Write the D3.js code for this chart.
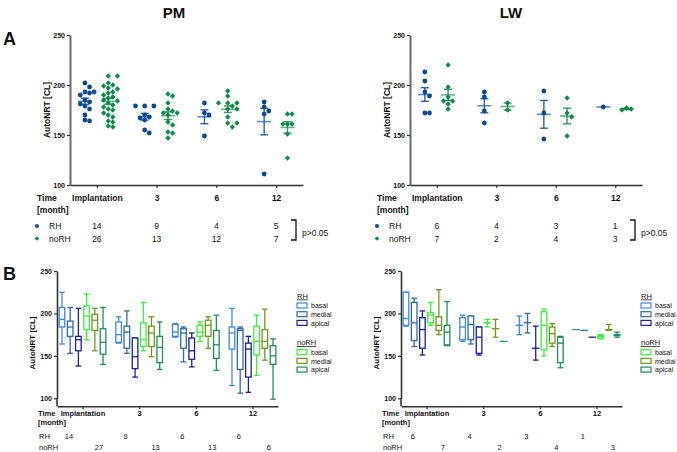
<!DOCTYPE html>
<html>
<head>
<meta charset="utf-8">
<script src="https://cdn.jsdelivr.net/npm/d3@7"></script>
<style>
  body { margin: 0; background: #fff; }
  text { font-family: Arial, "Liberation Sans", sans-serif; fill: #111; }
</style>
</head>
<body>
<script>
let times = ['Implantation', '3', '6', '12'];

// A: AutoNRT [CL] per patient, one list per time point
let pmRH = [
  [202, 198, 193, 193, 192, 190, 185, 183, 181, 179, 176, 170, 165, 164],
  [179, 179, 179, 170, 168, 167, 165, 155, 152],
  [182, 172, 170, 149],
  [183, 178, 174, 171, 111]
];
let pmNoRH = [
  [209, 209, 202, 200, 199, 197, 196, 193, 192, 190, 188, 187, 185, 184, 182, 180, 178, 176, 175, 172, 170, 168, 164, 163, 159, 158],
  [191, 189, 182, 176, 174, 172, 172, 170, 163, 160, 153, 152, 147],
  [194, 189, 182, 182, 182, 179, 176, 176, 168, 162, 162, 158],
  [171, 171, 161, 161, 161, 151, 127]
];
let lwRH = [
  [213, 204, 193, 189, 172, 172],
  [193, 188, 174, 162],
  [194, 172, 146],
  [178]
];
let lwNoRH = [
  [220, 198, 188, 184, 184, 181, 176],
  [182, 175],
  [187, 172, 168, 149],
  [177, 176, 175]
];

// B: box plots [min, q1, median, q3, max] per time point
let regions = ['basal', 'medial', 'apical'];
let pmBoxRH = {
  basal:  [[164, 184, 193, 207, 225], [165, 166, 175, 190, 196], [172, 173, 178, 187, 188], [115, 158, 177, 184, 206]],
  medial: [[153, 173, 184, 191, 207], [153, 159, 178, 185, 203], [143, 159, 177, 182, 184], [106, 134, 180, 182, 184]],
  apical: [[138, 156, 169, 173, 206], [125, 135, 149, 171, 171], [137, 146, 156, 171, 177], [107, 125, 158, 165, 173]]
};
let pmBoxNoRH = {
  basal:  [[169, 181, 197, 209, 223], [156, 161, 169, 189, 213], [167, 173, 178, 186, 190], [127, 151, 167, 185, 198]],
  medial: [[156, 180, 192, 199, 206], [149, 161, 177, 185, 196], [159, 173, 186, 192, 196], [145, 159, 167, 181, 205]],
  apical: [[140, 152, 166, 182, 207], [134, 142, 160, 173, 190], [133, 147, 163, 180, 198], [99, 140, 150, 162, 170]]
};
let lwBoxRH = {
  basal:  [[185, 186, 194, 225, 225], [167, 169, 184, 195, 198], [175, 186, 186, 186, 197], [181, 181, 181, 181, 181]],
  medial: [[161, 168, 189, 213, 218], [164, 169, 187, 197, 197], [177, 189, 189, 189, 200], [180, 180, 180, 180, 180]],
  apical: [[151, 159, 181, 195, 203], [151, 153, 172, 184, 184], [145, 159, 159, 159, 185], [172, 172, 172, 172, 172]]
};
let lwBoxNoRH = {
  basal:  [[186, 189, 198, 201, 213], [184, 189, 189, 189, 193], [150, 157, 186, 202, 205], [170, 171, 173, 174, 175]],
  medial: [[175, 180, 186, 196, 228], [172, 182, 182, 182, 193], [161, 165, 176, 184, 188], [180, 181, 181, 181, 187]],
  apical: [[162, 163, 178, 186, 214], [167, 167, 167, 167, 167], [136, 142, 165, 172, 173], [172, 174, 175, 175, 178]]
};
let pmBoxCountRH = [14, 8, 6, 6];
let pmBoxCountNoRH = [27, 13, 13, 6];
let lwBoxCountRH = [6, 4, 3, 1];
let lwBoxCountNoRH = [7, 2, 4, 3];

let colRH = '#0d4a94', colNoRH = '#0e8a4a';
let boxColRH = {basal: '#3f8ad8', medial: '#2f6aa6', apical: '#202095'};
let boxColNoRH = {basal: '#3def3d', medial: '#76951f', apical: '#1f8f5e'};

let svg = d3.select('body').append('svg')
  .attr('width', 677)
  .attr('height', 452);

// titles
svg.append('text').text('PM').attr('x', 174).attr('y', 18)
  .attr('text-anchor', 'middle').style('font-size', '15px').style('font-weight', 'bold');
svg.append('text').text('LW').attr('x', 511).attr('y', 18)
  .attr('text-anchor', 'middle').style('font-size', '15px').style('font-weight', 'bold');
svg.append('text').text('A').attr('x', 3).attr('y', 45)
  .style('font-size', '18px').style('font-weight', 'bold');
svg.append('text').text('B').attr('x', 3).attr('y', 280)
  .style('font-size', '18px').style('font-weight', 'bold');

function swarm(vals, cx, y) {
  let placed = [];
  vals.slice().sort((a, b) => b - a).forEach(v => {
    let py = y(v);
    for (let k = 0; k < 30; k++) {
      let off = k === 0 ? 0 : (k % 2 ? 1 : -1) * Math.ceil(k / 2) * 4.6;
      let px = cx + off;
      if (placed.every(p => Math.hypot(p.x - px, p.y - py) >= 4.6)) {
        placed.push({x: px, y: py});
        break;
      }
    }
  });
  return placed;
}

function styleAxes(gx, gy, fs) {
  gy.select('.domain').attr('stroke', '#6b6b6b').attr('stroke-width', 2);
  gx.select('.domain').attr('stroke', '#333').attr('stroke-width', 1.6);
  gy.selectAll('.tick line').attr('stroke', '#333').attr('stroke-width', 1.2);
  gx.selectAll('.tick line').attr('stroke', '#333').attr('stroke-width', 1.2);
  gy.selectAll('text').style('font-size', '7px').style('font-weight', 'bold')
    .style('font-family', 'Arial, "Liberation Sans", sans-serif');
  gx.selectAll('text').style('font-size', fs + 'px').style('font-weight', 'bold')
    .style('font-family', 'Arial, "Liberation Sans", sans-serif');
}

function scatterPanel(o) {
  let x = d3.scalePoint().domain(times).range([o.x0, o.x1]).padding(0.45);
  let y = d3.scaleLinear().domain([100, 250]).range([185, 35]);
  let step = x.step();

  let gy = svg.append('g').attr('transform', `translate(${o.x0},0)`)
    .call(d3.axisLeft(y).tickValues([100, 150, 200, 250]).tickSize(3).tickSizeOuter(0).tickPadding(2));
  let gx = svg.append('g').attr('transform', `translate(0,${y(100)})`)
    .call(d3.axisBottom(x).tickSize(3).tickSizeOuter(0).tickPadding(7));
  styleAxes(gx, gy, 8.5);

  svg.append('text').text('AutoNRT [CL]')
    .attr('transform', `translate(${o.x0 - 20},${(y(100) + y(250)) / 2}) rotate(-90)`)
    .attr('text-anchor', 'middle').style('font-size', '8.5px').style('font-weight', 'bold');

  let groups = [
    {data: o.rh, col: colRH, shape: 'circle', dx: -0.2},
    {data: o.norh, col: colNoRH, shape: 'diamond', dx: 0.19}
  ];
  groups.forEach(gr => {
    gr.data.forEach((vals, i) => {
      let cx = x(times[i]) + gr.dx * step;
      let pts = swarm(vals, cx, y);
      if (gr.shape === 'circle') {
        svg.append('g').selectAll('circle').data(pts).enter().append('circle')
          .attr('cx', d => d.x).attr('cy', d => d.y).attr('r', 2.4).attr('fill', gr.col);
      } else {
        svg.append('g').selectAll('path').data(pts).enter().append('path')
          .attr('d', d3.symbol().type(d3.symbolSquare).size(14))
          .attr('transform', d => `translate(${d.x},${d.y}) rotate(45)`).attr('fill', gr.col);
      }
      let m = d3.mean(vals);
      svg.append('line').attr('x1', cx - 7).attr('x2', cx + 7).attr('y1', y(m)).attr('y2', y(m))
        .attr('stroke', gr.col).attr('stroke-width', 1.6).attr('stroke-opacity', 0.65);
      if (vals.length > 1) {
        let sem = d3.deviation(vals) / Math.sqrt(vals.length);
        let eb = svg.append('g').attr('stroke', gr.col).attr('stroke-width', 1.4).attr('stroke-opacity', 0.85);
        eb.append('line').attr('x1', cx).attr('x2', cx).attr('y1', y(m + sem)).attr('y2', y(m - sem));
        eb.append('line').attr('x1', cx - 4).attr('x2', cx + 4).attr('y1', y(m + sem)).attr('y2', y(m + sem));
        eb.append('line').attr('x1', cx - 4).attr('x2', cx + 4).attr('y1', y(m - sem)).attr('y2', y(m - sem));
      }
    });
  });

  // table under axis
  let tx = o.x0 - 33;
  svg.append('text').text('Time').attr('x', tx).attr('y', 201)
    .style('font-size', '8.5px').style('font-weight', 'bold');
  svg.append('text').text('[month]').attr('x', tx).attr('y', 212.5)
    .style('font-size', '8.5px').style('font-weight', 'bold');
  svg.append('circle').attr('cx', tx).attr('cy', 226).attr('r', 2).attr('fill', colRH);
  svg.append('path').attr('d', d3.symbol().type(d3.symbolSquare).size(10))
    .attr('transform', `translate(${tx},238.5) rotate(45)`).attr('fill', colNoRH);
  svg.append('text').text('RH').attr('x', tx + 12).attr('y', 229).style('font-size', '8.5px');
  svg.append('text').text('noRH').attr('x', tx + 12).attr('y', 241.5).style('font-size', '8.5px');
  svg.append('g').selectAll('text').data(o.rh).enter().append('text')
    .text(d => d.length).attr('x', (d, i) => x(times[i])).attr('y', 229)
    .attr('text-anchor', 'middle').style('font-size', '8.5px');
  svg.append('g').selectAll('text').data(o.norh).enter().append('text')
    .text(d => d.length).attr('x', (d, i) => x(times[i])).attr('y', 241.5)
    .attr('text-anchor', 'middle').style('font-size', '8.5px');
  let bx = o.x1 - 7;
  svg.append('path').attr('d', `M${bx - 5},220H${bx}V240H${bx - 5}`)
    .attr('fill', 'none').attr('stroke', '#111').attr('stroke-width', 1.3);
  svg.append('text').text('p>0.05').attr('x', bx + 6).attr('y', 235.5).style('font-size', '8.5px');
}

function boxPanel(o) {
  let x = d3.scalePoint().domain(times).range([o.x0, o.x1]).padding(0.45);
  let y = d3.scaleLinear().domain([100, 250]).range([398.3, 271]);
  let step = x.step();

  let gy = svg.append('g').attr('transform', `translate(${o.x0},0)`)
    .call(d3.axisLeft(y).tickValues([100, 150, 200, 250]).tickSize(3).tickSizeOuter(0).tickPadding(2));
  let gx = svg.append('g').attr('transform', `translate(0,${y(100) + 8})`)
    .call(d3.axisBottom(x).tickSize(3).tickSizeOuter(0).tickPadding(1));
  gy.append('line').attr('x1', 0).attr('x2', 0).attr('y1', y(100)).attr('y2', y(100) + 8)
    .attr('stroke', '#333').attr('stroke-width', 1.6);
  styleAxes(gx, gy, 7.5);
  gy.select('.domain').attr('stroke', '#333').attr('stroke-width', 1.6);

  svg.append('text').text('AutoNRT [CL]')
    .attr('transform', `translate(${o.x0 - 22},${343}) rotate(-90)`)
    .attr('text-anchor', 'middle').style('font-size', '8px').style('font-weight', 'bold');

  let series = [];
  regions.forEach(r => series.push({data: o.rh[r], col: boxColRH[r]}));
  regions.forEach(r => series.push({data: o.norh[r], col: boxColNoRH[r]}));
  let bw = 5.6;
  series.forEach((s, k) => {
    s.data.forEach((b, i) => {
      let cx = x(times[i]) + (k - 2.5) * step * 0.145;
      let g = svg.append('g').attr('stroke', s.col).attr('stroke-width', 1.3).attr('fill', 'none');
      g.append('line').attr('x1', cx).attr('x2', cx).attr('y1', y(b[4])).attr('y2', y(b[3]));
      g.append('line').attr('x1', cx).attr('x2', cx).attr('y1', y(b[1])).attr('y2', y(b[0]));
      if (b[4] > b[0]) {
        g.append('line').attr('x1', cx - bw / 2).attr('x2', cx + bw / 2).attr('y1', y(b[4])).attr('y2', y(b[4]));
        g.append('line').attr('x1', cx - bw / 2).attr('x2', cx + bw / 2).attr('y1', y(b[0])).attr('y2', y(b[0]));
      }
      if (b[3] > b[1]) {
        g.append('rect').attr('x', cx - bw / 2).attr('width', bw)
          .attr('y', y(b[3])).attr('height', y(b[1]) - y(b[3])).attr('fill', '#fff');
      }
      let mw = b[3] > b[1] ? bw : bw + 2;
      g.append('line').attr('x1', cx - mw / 2).attr('x2', cx + mw / 2).attr('y1', y(b[2])).attr('y2', y(b[2]));
    });
  });

  // table
  let tx = o.x0 - 19;
  svg.append('text').text('Time').attr('x', tx).attr('y', 416)
    .style('font-size', '7.5px').style('font-weight', 'bold');
  svg.append('text').text('[month]').attr('x', tx).attr('y', 424.5)
    .style('font-size', '7.5px').style('font-weight', 'bold');
  svg.append('text').text('RH').attr('x', tx + 1).attr('y', 439).style('font-size', '7.5px');
  svg.append('text').text('noRH').attr('x', tx + 1).attr('y', 449.5).style('font-size', '7.5px');
  svg.append('g').selectAll('text').data(o.nRH).enter().append('text')
    .text(d => d).attr('x', (d, i) => x(times[i]) - step * 0.24).attr('y', 439)
    .attr('text-anchor', 'middle').style('font-size', '7.5px');
  svg.append('g').selectAll('text').data(o.nNoRH).enter().append('text')
    .text(d => d).attr('x', (d, i) => x(times[i]) + step * 0.29).attr('y', 449.5)
    .attr('text-anchor', 'middle').style('font-size', '7.5px');

  // legend
  let lx = o.x1 + 19;
  [{t: 'RH', y0: 296, cols: boxColRH}, {t: 'noRH', y0: 342.7, cols: boxColNoRH}].forEach(l => {
    svg.append('text').text(l.t).attr('x', lx).attr('y', l.y0 + 2.5)
      .style('font-size', '7.5px').style('text-decoration', 'underline');
    regions.forEach((r, i) => {
      let yy = l.y0 + 9.5 + i * 8.7;
      svg.append('rect').attr('x', lx).attr('y', yy - 2.5).attr('width', 10).attr('height', 5)
        .attr('fill', '#fff').attr('stroke', l.cols[r]).attr('stroke-width', 1.2);
      svg.append('text').text(r).attr('x', lx + 14).attr('y', yy + 2.6).style('font-size', '7px');
    });
  });
}

scatterPanel({x0: 70, x1: 303, rh: pmRH, norh: pmNoRH});
scatterPanel({x0: 410, x1: 642, rh: lwRH, norh: lwNoRH});
boxPanel({x0: 57, x1: 278, rh: pmBoxRH, norh: pmBoxNoRH, nRH: pmBoxCountRH, nNoRH: pmBoxCountNoRH});
boxPanel({x0: 401, x1: 622, rh: lwBoxRH, norh: lwBoxNoRH, nRH: lwBoxCountRH, nNoRH: lwBoxCountNoRH});
</script>
</body>
</html>
